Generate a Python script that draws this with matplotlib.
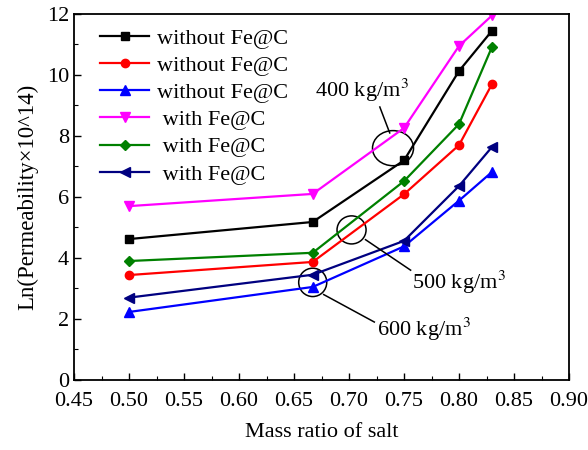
import matplotlib
matplotlib.use("Agg")
import matplotlib.pyplot as plt
from matplotlib.patches import Ellipse
from matplotlib.ticker import MultipleLocator

mass_ratio = [0.50, 0.667, 0.75, 0.80, 0.83]

labels = ["without Fe@C", "without Fe@C", "without Fe@C",
          " with Fe@C", " with Fe@C", " with Fe@C"]
black_400 = [4.62, 5.18, 7.20, 10.13, 11.45]
red_500 = [3.44, 3.87, 6.09, 7.70, 9.70]
blue_600 = [2.23, 3.05, 4.38, 5.88, 6.82]
magenta_400 = [5.70, 6.10, 8.26, 10.95, 11.95]
green_500 = [3.90, 4.17, 6.52, 8.39, 10.92]
navy_600 = [2.70, 3.45, 4.56, 6.36, 7.64]

plt.rcParams['font.family'] = ['Liberation Serif', 'DejaVu Serif']

fig = plt.figure(figsize=(5.88, 4.5), dpi=100)
ax = fig.add_axes([0.1259, 0.1556, 0.8418, 0.8134])

series = [black_400, red_500, blue_600, magenta_400, green_500, navy_600]
colors = ['black', 'red', 'blue', 'magenta', 'green', '#000080']
markers = ['s', 'o', '^', 'v', 'D', '<']
msizes = [5.5, 6, 6.5, 6.5, 5, 6.5]

for ys, c, m, ms, lab in zip(series, colors, markers, msizes, labels):
    ax.plot(mass_ratio, ys, color=c, marker=m, markersize=ms, lw=1.6, label=lab)

ax.set_xlim(0.45, 0.90)
ax.set_ylim(0, 12)
ax.xaxis.set_major_locator(MultipleLocator(0.05))
ax.xaxis.set_minor_locator(MultipleLocator(0.025))
ax.yaxis.set_major_locator(MultipleLocator(2))
ax.yaxis.set_minor_locator(MultipleLocator(1))
ax.xaxis.set_major_formatter(plt.FormatStrFormatter('%.2f'))
ax.tick_params(which='major', direction='in', length=5, width=1, labelsize=16,
               top=False, right=False)
ax.tick_params(axis='x', which='major', pad=9)
ax.tick_params(which='minor', direction='in', length=3, width=0.8,
               top=False, right=False)
for s in ax.spines.values():
    s.set_linewidth(1.3)

ax.set_xlabel("Mass ratio of salt", fontsize=16, labelpad=8)
ax.set_ylabel("Ln(Permeability\u00d710^14)", fontsize=16.5, labelpad=6)

leg = ax.legend(loc='upper left', bbox_to_anchor=(0.028, 0.995), frameon=False,
                fontsize=16, handlelength=2.2, handletextpad=0.35,
                labelspacing=0.3, borderaxespad=0.15)

# circled groups with leader lines
circles = [(0.740, 7.60, 0.0373, 1.15), (0.7023, 4.92, 0.0264, 0.92),
           (0.667, 3.20, 0.0255, 0.93)]
for cx, cy, w, h in circles:
    ax.add_patch(Ellipse((cx, cy), w, h, fill=False, ec='black', lw=1.1))

ax.plot([0.728, 0.737], [8.95, 8.10], color='black', lw=1.1)
ax.plot([0.715, 0.756], [4.60, 3.60], color='black', lw=1.1)
ax.plot([0.677, 0.723], [2.80, 1.90], color='black', lw=1.1)

ax.text(0.669, 9.05, "400 kg/m$^3$", fontsize=16, ha='left', va='bottom',
        math_fontfamily='stix')
ax.text(0.757, 2.75, "500 kg/m$^3$", fontsize=16, ha='left', va='bottom',
        math_fontfamily='stix')
ax.text(0.725, 1.20, "600 kg/m$^3$", fontsize=16, ha='left', va='bottom',
        math_fontfamily='stix')

fig.savefig("out.png", dpi=100)
